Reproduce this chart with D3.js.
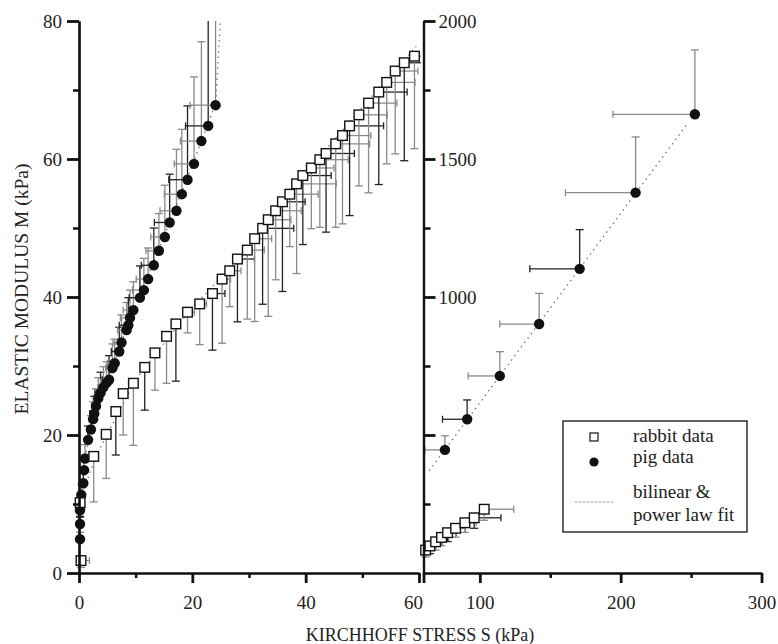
<!DOCTYPE html>
<html>
<head>
<meta charset="utf-8">
<script src="https://cdn.jsdelivr.net/npm/d3@7"></script>
<style>
  body { margin: 0; background: #fff; }
  svg text { font-family: "Liberation Serif", "Times New Roman", serif; fill: #222; }
  .axis path, .axis line { stroke: #111; }
</style>
</head>
<body>
<div id="chart"></div>
<script>
var svgWidth = 778;
var svgHeight = 644;

// left panel (low stress) data, kPa
var rabbitS    = [0.35, 0.2, 2.6, 4.8, 6.5, 7.8, 9.6, 11.6, 13.4, 15.45, 17.1, 19.15, 21.3, 23.55, 25.25, 26.6, 27.96, 29.7, 31.0, 32.4, 33.4, 34.7, 35.9, 37.2, 38.4, 39.5, 41.0, 42.5, 43.6, 45.3, 46.5, 47.75, 49.4, 51.1, 52.9, 54.3, 55.8, 57.4, 59.2];
var rabbitM    = [1.8, 10.2, 16.9, 20.1, 23.4, 26.0, 27.5, 29.8, 31.9, 34.3, 36.1, 37.8, 39.0, 40.5, 42.6, 43.8, 45.5, 46.8, 48.45, 49.95, 51.2, 52.5, 53.8, 54.9, 56.4, 57.6, 58.7, 59.9, 60.8, 62.2, 63.4, 64.8, 66.4, 68.1, 69.7, 71.1, 72.75, 73.95, 74.9];
var rabbitErrS = [1.5, 0.3, 0.8, 0.8, 0.5, 0.5, 0.5, 0.6, 0.6, 0.4, 0.5, 1.2, 1.2, 2.2, 1.5, 2, 3, 3, 3, 5.5, 4, 4.5, 4, 5, 7, 5, 4, 5, 5, 6, 5, 6, 5, 5, 5, 5, 4, 4, 3];
var rabbitErrM = [1, 2, 6.6, 6.4, 6.3, 6, 9, 6.2, 5.4, 6.8, 8.3, 3, 5.9, 8.2, 9.3, 5.2, 9.1, 10, 12, 11, 14, 10, 13, 7.6, 13, 10, 8.8, 9.8, 11.4, 12.1, 12.8, 13, 10.3, 13, 13.4, 11.8, 12, 14.2, 13.4];

var pigS    = [0.18, 0.18, 0.18, 0.4, 0.76, 0.9, 1.06, 1.6, 2.1, 2.5, 2.7, 3.0, 3.4, 3.8, 4.3, 4.9, 5.3, 5.9, 6.3, 7.1, 7.5, 8.4, 8.7, 9.0, 9.6, 10.75, 11.45, 12.2, 13.2, 14.1, 15.15, 16.0, 17.2, 18.15, 19.15, 20.3, 21.6, 22.8, 24.1];
var pigM    = [4.9, 7.1, 9.1, 11.3, 13.0, 14.9, 16.6, 19.3, 20.8, 22.3, 23.1, 24.2, 25.3, 26.1, 26.9, 27.6, 28.0, 29.7, 30.4, 32.1, 33.4, 35.2, 35.9, 37.0, 38.1, 39.9, 41.0, 42.6, 44.6, 46.7, 48.7, 50.8, 52.5, 54.9, 57.0, 59.3, 62.6, 64.8, 67.8];
var pigErrS = [0.1, 0.1, 0.1, 0.2, 0.3, 0.3, 0.4, 0.5, 0.6, 0.7, 0.8, 0.8, 0.9, 1, 1, 1.1, 1.2, 1.2, 1.3, 1.4, 1.5, 1.6, 1.6, 1.7, 1.8, 1.9, 2, 2.1, 2.2, 2.3, 2.5, 2.7, 2.9, 3.1, 3.3, 3.5, 3.7, 4, 4.5];
var pigErrM = [1, 1, 1, 1.5, 1.5, 1.5, 2, 2, 2, 2.5, 2.5, 2.5, 3, 3, 3, 3, 3.5, 3.5, 3.5, 3.5, 4, 4, 4, 4, 4.1, 4.6, 4.6, 4.5, 5.4, 5.4, 7.5, 7, 8.9, 9.4, 10.7, 12.6, 14.4, 16, 18];

// right panel (high stress) data, kPa
var rabbitHiS    = [61.5, 64.5, 68.6, 72.8, 77.1, 82.8, 89.4, 96, 103.1];
var rabbitHiM    = [83, 98, 113, 129, 146, 162, 182, 200, 231];
var rabbitHiErrS = [3, 4, 5, 5, 6, 7, 8, 19, 21];
var rabbitHiErrM = [25, 28, 30, 30, 32, 32, 35, 38, 40];

var pigHiS    = [75.2, 91.0, 114.2, 142.1, 170.9, 210.6, 252.7];
var pigHiM    = [446, 557, 714, 902, 1102, 1378, 1662];
var pigHiErrS = [14.2, 17.5, 22.5, 27.9, 35.4, 49.8, 58.2];
var pigHiErrM = [51, 70, 88, 111, 142, 202, 233];

// fit lines
var rabbitFitS = [0, 3, 10, 20, 30, 40, 50, 59.5];
var rabbitFitM = [10, 17, 28, 38.5, 47, 58, 67.5, 76.3];
var pigFitS    = [0.1, 1, 2.5, 5, 9, 14, 19, 24.1, 24.95];
var pigFitM    = [4, 16.5, 22.3, 27.6, 37, 46.7, 57, 68, 80];
var pigHiFitS  = [64, 247];
var pigHiFitM  = [370, 1625];
var rabbitHiFitS = [60, 104];
var rabbitHiFitM = [80, 228];

var svg = d3.select("#chart").append("svg")
  .attr("width", svgWidth)
  .attr("height", svgHeight);

var xL = d3.scaleLinear().domain([0, 60]).range([79, 419]);
var yL = d3.scaleLinear().domain([0, 80]).range([573, 21]);
var xR = d3.scaleLinear().domain([60, 300]).range([423.5, 761.5]);
var yR = d3.scaleLinear().domain([0, 2000]).range([573, 21]);

svg.append("clipPath").attr("id", "clipL")
  .append("rect").attr("x", 40).attr("y", 21).attr("width", 381).attr("height", 560);

function zip(a, b) { return a.map((v, i) => [v, b[i]]); }

function drawPanel(g, x, y, rS, rM, rES, rEM, pS, pM, pES, pEM, fits) {
  // dotted fits underneath
  fits.forEach(function (f) {
    g.append("path")
      .datum(zip(f[0], f[1]))
      .attr("fill", "none")
      .attr("stroke", "#777")
      .attr("stroke-width", 1.3)
      .attr("stroke-dasharray", "1.5,4")
      .attr("d", d3.line().x(d => x(d[0])).y(d => y(d[1])));
  });

  var pig = zip(pS, pM).map((d, i) => ({s: d[0], m: d[1], es: pES[i], em: pEM[i], i: i}));
  var rab = zip(rS, rM).map((d, i) => ({s: d[0], m: d[1], es: rES[i], em: rEM[i], i: i}));
  var col = d => (d.i % 3 === 1 ? "#222" : "#8a8a8a");

  // pig error bars: up and to the left
  var pb = g.append("g").selectAll("g").data(pig).enter().append("g")
    .attr("stroke", col).attr("stroke-width", 1.3);
  pb.append("line").attr("x1", d => x(d.s)).attr("x2", d => x(d.s))
    .attr("y1", d => y(d.m)).attr("y2", d => y(d.m + d.em));
  pb.append("line").attr("x1", d => x(d.s) - 4).attr("x2", d => x(d.s) + 4)
    .attr("y1", d => y(d.m + d.em)).attr("y2", d => y(d.m + d.em));
  pb.append("line").attr("x1", d => x(d.s)).attr("x2", d => x(d.s - d.es))
    .attr("y1", d => y(d.m)).attr("y2", d => y(d.m));
  pb.append("line").attr("x1", d => x(d.s - d.es)).attr("x2", d => x(d.s - d.es))
    .attr("y1", d => y(d.m) - 3.5).attr("y2", d => y(d.m) + 3.5);

  // rabbit error bars: down and to the right
  var rb = g.append("g").selectAll("g").data(rab).enter().append("g")
    .attr("stroke", col).attr("stroke-width", 1.3);
  rb.append("line").attr("x1", d => x(d.s)).attr("x2", d => x(d.s))
    .attr("y1", d => y(d.m)).attr("y2", d => y(d.m - d.em));
  rb.append("line").attr("x1", d => x(d.s) - 4).attr("x2", d => x(d.s) + 4)
    .attr("y1", d => y(d.m - d.em)).attr("y2", d => y(d.m - d.em));
  rb.append("line").attr("x1", d => x(d.s)).attr("x2", d => x(d.s + d.es))
    .attr("y1", d => y(d.m)).attr("y2", d => y(d.m));
  rb.append("line").attr("x1", d => x(d.s + d.es)).attr("x2", d => x(d.s + d.es))
    .attr("y1", d => y(d.m) - 3.5).attr("y2", d => y(d.m) + 3.5);

  g.append("g").selectAll("circle").data(pig).enter().append("circle")
    .attr("cx", d => x(d.s)).attr("cy", d => y(d.m)).attr("r", 5.2)
    .attr("fill", "#111");

  g.append("g").selectAll("rect").data(rab).enter().append("rect")
    .attr("x", d => x(d.s) - 4.8).attr("y", d => y(d.m) - 4.8)
    .attr("width", 9.6).attr("height", 9.6)
    .attr("fill", "#fff").attr("stroke", "#111").attr("stroke-width", 1.4);
}

var left = svg.append("g").attr("clip-path", "url(#clipL)");
drawPanel(left, xL, yL, rabbitS, rabbitM, rabbitErrS, rabbitErrM, pigS, pigM, pigErrS, pigErrM,
  [[rabbitFitS, rabbitFitM], [pigFitS, pigFitM]]);

var right = svg.append("g");
drawPanel(right, xR, yR, rabbitHiS, rabbitHiM, rabbitHiErrS, rabbitHiErrM, pigHiS, pigHiM, pigHiErrS, pigHiErrM,
  [[rabbitHiFitS, rabbitHiFitM], [pigHiFitS, pigHiFitM]]);

// axes
function styleAxis(sel, w) {
  sel.attr("class", "axis");
  sel.select(".domain").attr("stroke-width", 2.2);
  sel.selectAll(".tick line").attr("stroke-width", w);
  sel.selectAll("text").attr("font-size", 19).attr("fill", "#222");
}

var yLeftMinor = svg.append("g").attr("transform", "translate(79,0)")
  .call(d3.axisLeft(yL).tickValues([10, 30, 50, 70]).tickSize(6).tickSizeOuter(0).tickFormat(""));
styleAxis(yLeftMinor, 2.5);
var yLeft = svg.append("g").attr("transform", "translate(79,0)")
  .call(d3.axisLeft(yL).tickValues([0, 20, 40, 60, 80]).tickSize(12).tickSizeOuter(0).tickPadding(5));
styleAxis(yLeft, 2.8);

var yRightMinor = svg.append("g").attr("transform", "translate(423.5,0)")
  .call(d3.axisRight(yR).tickValues([250, 750, 1250, 1750]).tickSize(7).tickSizeOuter(0).tickFormat(""));
styleAxis(yRightMinor, 2.5);
var yRight = svg.append("g").attr("transform", "translate(423.5,0)")
  .call(d3.axisRight(yR).tickValues([500, 1000, 1500, 2000]).tickSize(12).tickSizeOuter(0).tickPadding(3)
    .tickFormat(d => (d >= 1000 ? d : "")));
styleAxis(yRight, 2.8);

var xLeftMinor = svg.append("g").attr("transform", "translate(0,573)")
  .call(d3.axisBottom(xL).tickValues([10, 30, 50]).tickSize(5).tickSizeOuter(0).tickFormat(""));
styleAxis(xLeftMinor, 2.5);
var xLeft = svg.append("g").attr("transform", "translate(0,573)")
  .call(d3.axisBottom(xL).tickValues([0, 20, 40, 60]).tickSize(10).tickSizeOuter(0).tickPadding(13));
styleAxis(xLeft, 2.8);
xLeft.selectAll(".tick text").filter(d => d === 60).attr("x", -6);

var xRightMinor = svg.append("g").attr("transform", "translate(0,573)")
  .call(d3.axisBottom(xR).tickValues([150, 250]).tickSize(5).tickSizeOuter(0).tickFormat(""));
styleAxis(xRightMinor, 2.5);
var xRight = svg.append("g").attr("transform", "translate(0,573)")
  .call(d3.axisBottom(xR).tickValues([60, 100, 200, 300]).tickSize(10).tickSizeOuter(0).tickPadding(13)
    .tickFormat(d => (d === 60 ? "" : d)));
styleAxis(xRight, 2.8);

// axis titles
svg.append("text")
  .attr("transform", "translate(28,289) rotate(-90)")
  .attr("text-anchor", "middle")
  .attr("font-size", 19.5)
  .text("ELASTIC MODULUS M (kPa)");

svg.append("text")
  .attr("x", 420).attr("y", 641)
  .attr("text-anchor", "middle")
  .attr("font-size", 18)
  .text("KIRCHHOFF STRESS S (kPa)");

// legend
var legend = svg.append("g");
legend.append("rect")
  .attr("x", 563).attr("y", 421).attr("width", 184).attr("height", 111)
  .attr("fill", "#fff").attr("stroke", "#111").attr("stroke-width", 1.3);
legend.append("rect")
  .attr("x", 590).attr("y", 433).attr("width", 8).attr("height", 8)
  .attr("fill", "#fff").attr("stroke", "#111").attr("stroke-width", 1.2);
legend.append("circle")
  .attr("cx", 594).attr("cy", 462).attr("r", 4.6).attr("fill", "#111");
legend.append("line")
  .attr("x1", 575).attr("x2", 615).attr("y1", 502).attr("y2", 502)
  .attr("stroke", "#999").attr("stroke-width", 1).attr("stroke-dasharray", "2.5,1.5");
var legendText = [["rabbit data", 442], ["pig data", 463], ["bilinear &", 498], ["power law fit", 521]];
legend.selectAll("text.lt").data(legendText).enter().append("text")
  .attr("class", "lt")
  .attr("x", 633).attr("y", d => d[1])
  .attr("font-size", 19)
  .text(d => d[0]);
</script>
</body>
</html>
